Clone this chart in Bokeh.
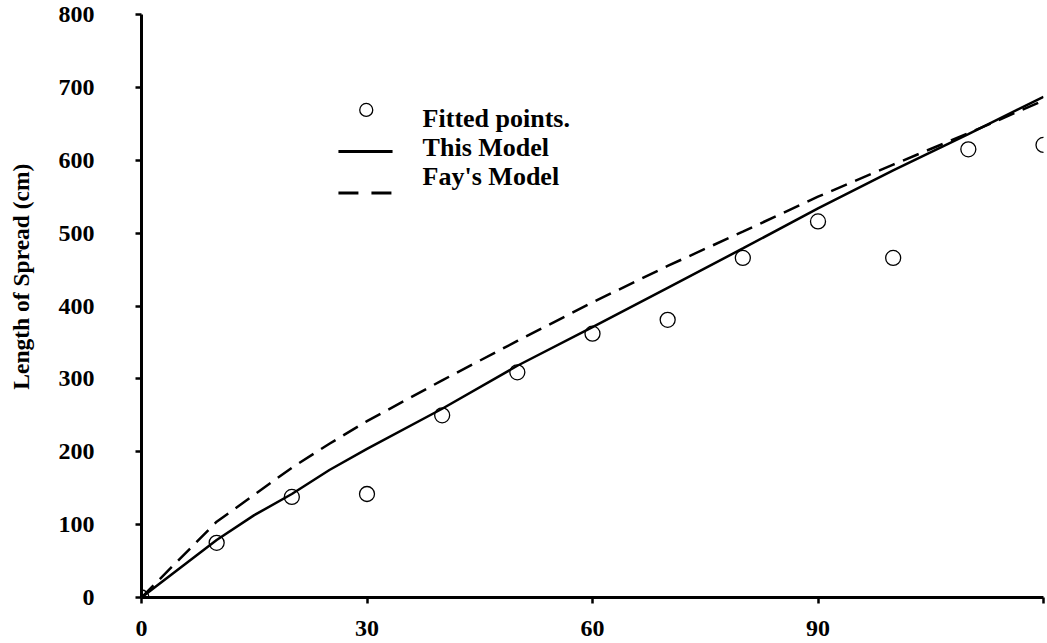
from bokeh.plotting import figure
from bokeh.models import Range1d, FixedTicker
from bokeh.core.properties import value
from bokeh.embed import file_html
from bokeh.resources import INLINE

# Fitted points
pts_x = [0, 10, 20, 30, 40, 50, 60, 70, 80, 90, 100, 110, 120]
pts_y = [0, 75, 138, 142, 250, 309, 362, 381, 466, 516, 466, 615, 621]

# This Model (solid)
model_x = [0, 10, 15, 20, 25, 30, 40, 50, 60, 70, 80, 90, 100, 110, 120]
model_y = [0, 79, 113, 142, 175, 204, 259, 318, 371, 425, 479, 534, 586, 636, 687]

# Fay's Model (dashed)
fay_x = [0, 10, 20, 25, 30, 40, 50, 60, 70, 80, 90, 100, 110, 120]
fay_y = [0, 104, 178, 211, 242, 298, 352, 405, 455, 502, 550, 594, 637, 682]

x_ticks = [0, 30, 60, 90, 120]
y_ticks = [0, 100, 200, 300, 400, 500, 600, 700, 800]

legend_labels = ["Fitted points.", "This Model", "Fay's Model"]

FONT = "Liberation Serif"

p = figure(width=1047, height=643, output_backend="svg", toolbar_location=None,
           x_range=Range1d(0, 120), y_range=Range1d(0, 800),
           min_border_left=141, min_border_right=4, min_border_top=14, min_border_bottom=46)
p.outline_line_color = None
p.xgrid.grid_line_color = None
p.ygrid.grid_line_color = None
p.background_fill_color = "white"
p.border_fill_color = "white"

for ax in (p.xaxis[0], p.yaxis[0]):
    ax.axis_line_width = 3
    ax.axis_line_color = "black"
    ax.major_tick_line_width = 2.5
    ax.major_tick_line_color = "black"
    ax.major_tick_in = 0
    ax.major_tick_out = 6
    ax.minor_tick_line_color = None
    ax.major_label_text_font = FONT
    ax.major_label_text_font_style = "bold"
    ax.major_label_text_font_size = "24px"
    ax.major_label_text_color = "black"

p.xaxis.ticker = FixedTicker(ticks=x_ticks)
p.xaxis.major_label_overrides = {120: ""}
p.xaxis.major_label_standoff = 17
p.yaxis.ticker = FixedTicker(ticks=y_ticks)
p.yaxis.major_label_standoff = 41

# y-axis title (leading spaces lift its visible part, as in the reference)
p.yaxis.axis_label = "\u00a0" * 10 + "Length of Spread (cm)"
p.yaxis.axis_label_text_font = FONT
p.yaxis.axis_label_text_font_style = "bold"
p.yaxis.axis_label_text_font_size = "23.5px"
p.yaxis.axis_label_text_color = "black"
p.yaxis.axis_label_standoff = 22

# curves
p.line(model_x, model_y, line_color="black", line_width=2.5)
p.line(fay_x, fay_y, line_color="black", line_width=2.5, line_dash="17 9")
p.scatter(pts_x, pts_y, marker="circle", size=15, line_color="black", line_width=1.3,
          fill_alpha=0)

# legend (manual keys)
p.scatter([29.9], [669], marker="circle", size=13, line_color="black", line_width=1.3, fill_alpha=0)
p.line([26.2, 33.4], [612, 612], line_color="black", line_width=3)
p.line([26.2, 33.4], [555, 555], line_color="black", line_width=3, line_dash="20 13")
for lab, ly in zip(legend_labels, [657, 618, 578]):
    p.text(x=[37.4], y=[ly], text=[lab], text_font=value(FONT), text_font_style="bold",
           text_font_size="26px", text_baseline="middle", text_align="left", text_color="black")

open("out.html", "w").write(file_html(p, INLINE))
